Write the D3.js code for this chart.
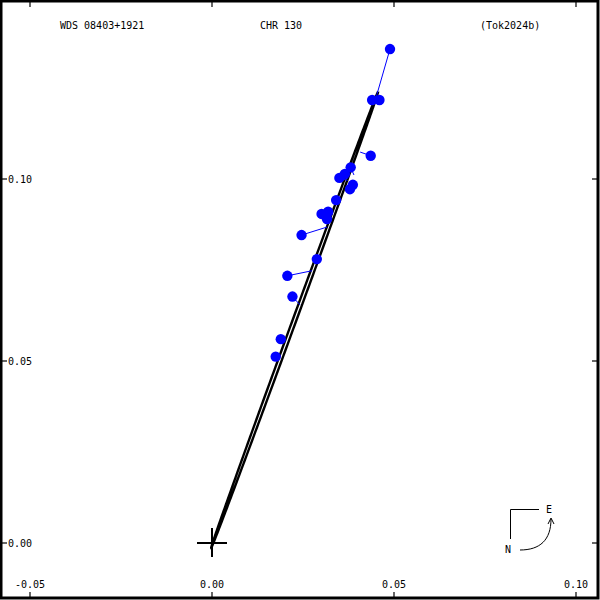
<!DOCTYPE html>
<html>
<head>
<meta charset="utf-8">
<script src="https://cdn.jsdelivr.net/npm/d3@7"></script>
<style>
html,body{margin:0;padding:0;background:#fff;}
svg{display:block;}
text{font-family:"DejaVu Sans Mono",monospace;font-size:10px;fill:#000;}
</style>
</head>
<body>
<script>
// ---- data ----
const titleLeft = "WDS 08403+1921";
const titleMid = "CHR 130";
const titleRight = "(Tok2024b)";
const xTicks = [-0.05, 0.00, 0.05, 0.10];
const xTickLabels = ["-0.05", "0.00", "0.05", "0.10"];
const yTicks = [0.00, 0.05, 0.10];
const yTickLabels = ["0.00", "0.05", "0.10"];
// observed positions (x, y in arcsec)
const obsX = [0.0489, 0.0440, 0.0460, 0.0436, 0.0381, 0.0350, 0.0365, 0.0387, 0.0379, 0.0341, 0.0301, 0.0319, 0.0316, 0.0246, 0.0288, 0.0207, 0.0221, 0.0189, 0.0175];
const obsY = [0.1357, 0.1217, 0.1217, 0.1064, 0.1032, 0.1003, 0.1014, 0.0984, 0.0972, 0.0942, 0.0904, 0.0910, 0.0890, 0.0846, 0.0780, 0.0734, 0.0677, 0.0560, 0.0512];
// predicted positions on the orbit (ends of O-C lines)
const predX = [0.0451, 0.0445, 0.0448, 0.0407, 0.0390, 0.0372, 0.0372, 0.0376, 0.0374, 0.0346, 0.0331, 0.0331, 0.0326, 0.0316, 0.0290, 0.0275, 0.0242, 0.0195, 0.0181];
const predY = [0.1225, 0.1217, 0.1217, 0.1074, 0.1011, 0.0996, 0.1000, 0.0989, 0.0982, 0.0942, 0.0904, 0.0904, 0.0890, 0.0868, 0.0780, 0.0748, 0.0654, 0.0549, 0.0508];
// apparent orbit ellipse
const orbitCenter = [0.0227, 0.0613];
const orbitSemiMajor = 0.0667;
const orbitSemiMinor = 0.0005;
const orbitAngleDeg = 69.9;

// ---- chart ----
const W = 600, H = 600;
const svg = d3.select("body").append("svg").attr("width", W).attr("height", H);
const x = d3.scaleLinear().domain([-0.05, 0.10]).range([30, 576]);
const y = d3.scaleLinear().domain([0, 0.10]).range([543, 179]);

// frame
svg.append("rect").attr("x", 1).attr("y", 1).attr("width", 597).attr("height", 597)
  .attr("fill", "none").attr("stroke", "#000").attr("stroke-width", 3);

// ticks
const tickG = svg.append("g").attr("stroke", "#000").attr("stroke-width", 1.2);
xTicks.forEach(v => {
  tickG.append("line").attr("x1", x(v)).attr("x2", x(v)).attr("y1", 2).attr("y2", 7);
  tickG.append("line").attr("x1", x(v)).attr("x2", x(v)).attr("y1", 592).attr("y2", 597);
});
yTicks.forEach(v => {
  tickG.append("line").attr("x1", 2).attr("x2", 7).attr("y1", y(v)).attr("y2", y(v));
  tickG.append("line").attr("x1", 592).attr("x2", 597).attr("y1", y(v)).attr("y2", y(v));
});
xTicks.forEach((v, i) => {
  svg.append("text").attr("x", x(v)).attr("y", 588).attr("text-anchor", "middle").text(xTickLabels[i]);
});
yTicks.forEach((v, i) => {
  svg.append("text").attr("x", 8).attr("y", y(v) + 4).text(yTickLabels[i]);
});

// titles
svg.append("text").attr("x", 60).attr("y", 29).text(titleLeft);
svg.append("text").attr("x", 260).attr("y", 29).text(titleMid);
svg.append("text").attr("x", 480).attr("y", 29).text(titleRight);

// orbit
const th = orbitAngleDeg * Math.PI / 180;
const orbitPts = d3.range(0, 361, 1).map(d => {
  const t = d * Math.PI / 180;
  const ex = orbitSemiMajor * Math.cos(t), ey = orbitSemiMinor * Math.sin(t);
  return [orbitCenter[0] + ex * Math.cos(th) - ey * Math.sin(th),
          orbitCenter[1] + ex * Math.sin(th) + ey * Math.cos(th)];
});
svg.append("path").datum(orbitPts)
  .attr("d", d3.line().x(d => x(d[0])).y(d => y(d[1])))
  .attr("fill", "none").attr("stroke", "#000").attr("stroke-width", 2.4);

// O-C lines
svg.append("g").selectAll("line").data(obsX).join("line")
  .attr("x1", (d, i) => x(obsX[i])).attr("y1", (d, i) => y(obsY[i]))
  .attr("x2", (d, i) => x(predX[i])).attr("y2", (d, i) => y(predY[i]))
  .attr("stroke", "#0000ff").attr("stroke-width", 1);

// observations
svg.append("g").selectAll("circle").data(obsX).join("circle")
  .attr("cx", (d, i) => x(obsX[i])).attr("cy", (d, i) => y(obsY[i]))
  .attr("r", 5.2).attr("fill", "#0000ff");

// primary cross
const cx0 = x(0), cy0 = y(0);
svg.append("line").attr("x1", cx0 - 15).attr("x2", cx0 + 15).attr("y1", cy0).attr("y2", cy0)
  .attr("stroke", "#000").attr("stroke-width", 2);
svg.append("line").attr("x1", cx0).attr("x2", cx0).attr("y1", cy0 - 15).attr("y2", cy0 + 14)
  .attr("stroke", "#000").attr("stroke-width", 2);

// compass
const cg = svg.append("g").attr("fill", "none").attr("stroke", "#000").attr("stroke-width", 1);
cg.append("path").attr("d", "M539,509.5 H510.5 V539");
cg.append("path").attr("d", "M520,550 C540,550 551,540 551,519");
cg.append("path").attr("d", "M548,524 L551,518 L554,524");
svg.append("text").attr("x", 546).attr("y", 513).text("E");
svg.append("text").attr("x", 505).attr("y", 553).text("N");
</script>
</body>
</html>
